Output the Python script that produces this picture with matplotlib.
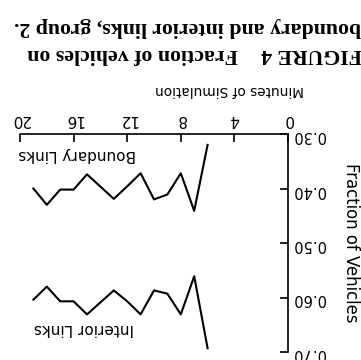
import matplotlib
matplotlib.use("Agg")
import matplotlib.pyplot as plt

# fraction of vehicles on each link type, by minute of simulation
boundary_min = [6, 7, 8, 9, 10, 11, 12, 13, 15, 16, 17, 18, 19]
boundary_frac = [0.320, 0.441, 0.372, 0.411, 0.420, 0.372, 0.396, 0.419,
                 0.374, 0.402, 0.402, 0.430, 0.400]

interior_min = [6, 7, 8, 9, 10, 11, 12, 13, 15, 16, 17, 18, 19]
interior_frac = [0.693, 0.561, 0.631, 0.593, 0.587, 0.631, 0.607, 0.587,
                 0.631, 0.607, 0.607, 0.580, 0.604]

x_ticks = [0, 4, 8, 12, 16, 20]
y_ticks = [0.30, 0.40, 0.50, 0.60, 0.70]
y_tick_labels = ["0.30", "0.40", "0.50", "0.60", "0.70"]

fig_label = "FIGURE 4"
caption_1 = "Fraction of vehicles on"
caption_2 = "boundary and interior links, group 2."

fig = plt.figure(figsize=(3.61, 3.60), dpi=100)
ax = fig.add_axes([20 / 361, 1 - 352 / 360, 268 / 361, 218 / 360])

# the page is printed upside down: both axes run backwards, all text turned 180
ax.plot(boundary_min, boundary_frac, color="black", lw=1.5)
ax.plot(interior_min, interior_frac, color="black", lw=1.5)
ax.set_xlim(20, 0)
ax.set_ylim(0.70, 0.30)

for s in ["left", "bottom"]:
    ax.spines[s].set_visible(False)
for s in ["top", "right"]:
    ax.spines[s].set_linewidth(1.2)

ax.xaxis.tick_top()
ax.yaxis.tick_right()
ax.set_xticks(x_ticks)
ax.set_xticklabels([str(t) for t in x_ticks], rotation=180, fontsize=11)
ax.set_yticks(y_ticks)
ax.set_yticklabels(y_tick_labels, rotation=180, fontsize=10.5)
ax.tick_params(axis="both", direction="in", length=5.5, width=1.2)
ax.tick_params(axis="x", pad=5)
ax.tick_params(axis="y", pad=3)

ax.text(20.1, 0.337, "Boundary Links", rotation=180, ha="left", va="center",
        fontsize=11)
ax.text(19.0, 0.656, "Interior Links", rotation=180, ha="left", va="center",
        fontsize=11)

fig.text(229 / 361, 1 - 90 / 360, "Minutes of Simulation", rotation=180,
         ha="center", va="center", fontsize=9.8)
fig.text(351 / 361, 1 - 243 / 360, "Fraction of Vehicles", rotation=270,
         ha="center", va="center", fontsize=11.9)

cap = dict(rotation=180, va="center", fontsize=15.7, fontweight="bold",
           family="Liberation Serif")
fig.text(1.003, 1 - 54 / 360, fig_label, ha="right", **cap)
fig.text(238 / 361, 1 - 54 / 360, caption_1, ha="right", **cap)
fig.text(1.0, 1 - 27 / 360, caption_2, ha="right", **cap)

fig.savefig("out.png", dpi=100)
